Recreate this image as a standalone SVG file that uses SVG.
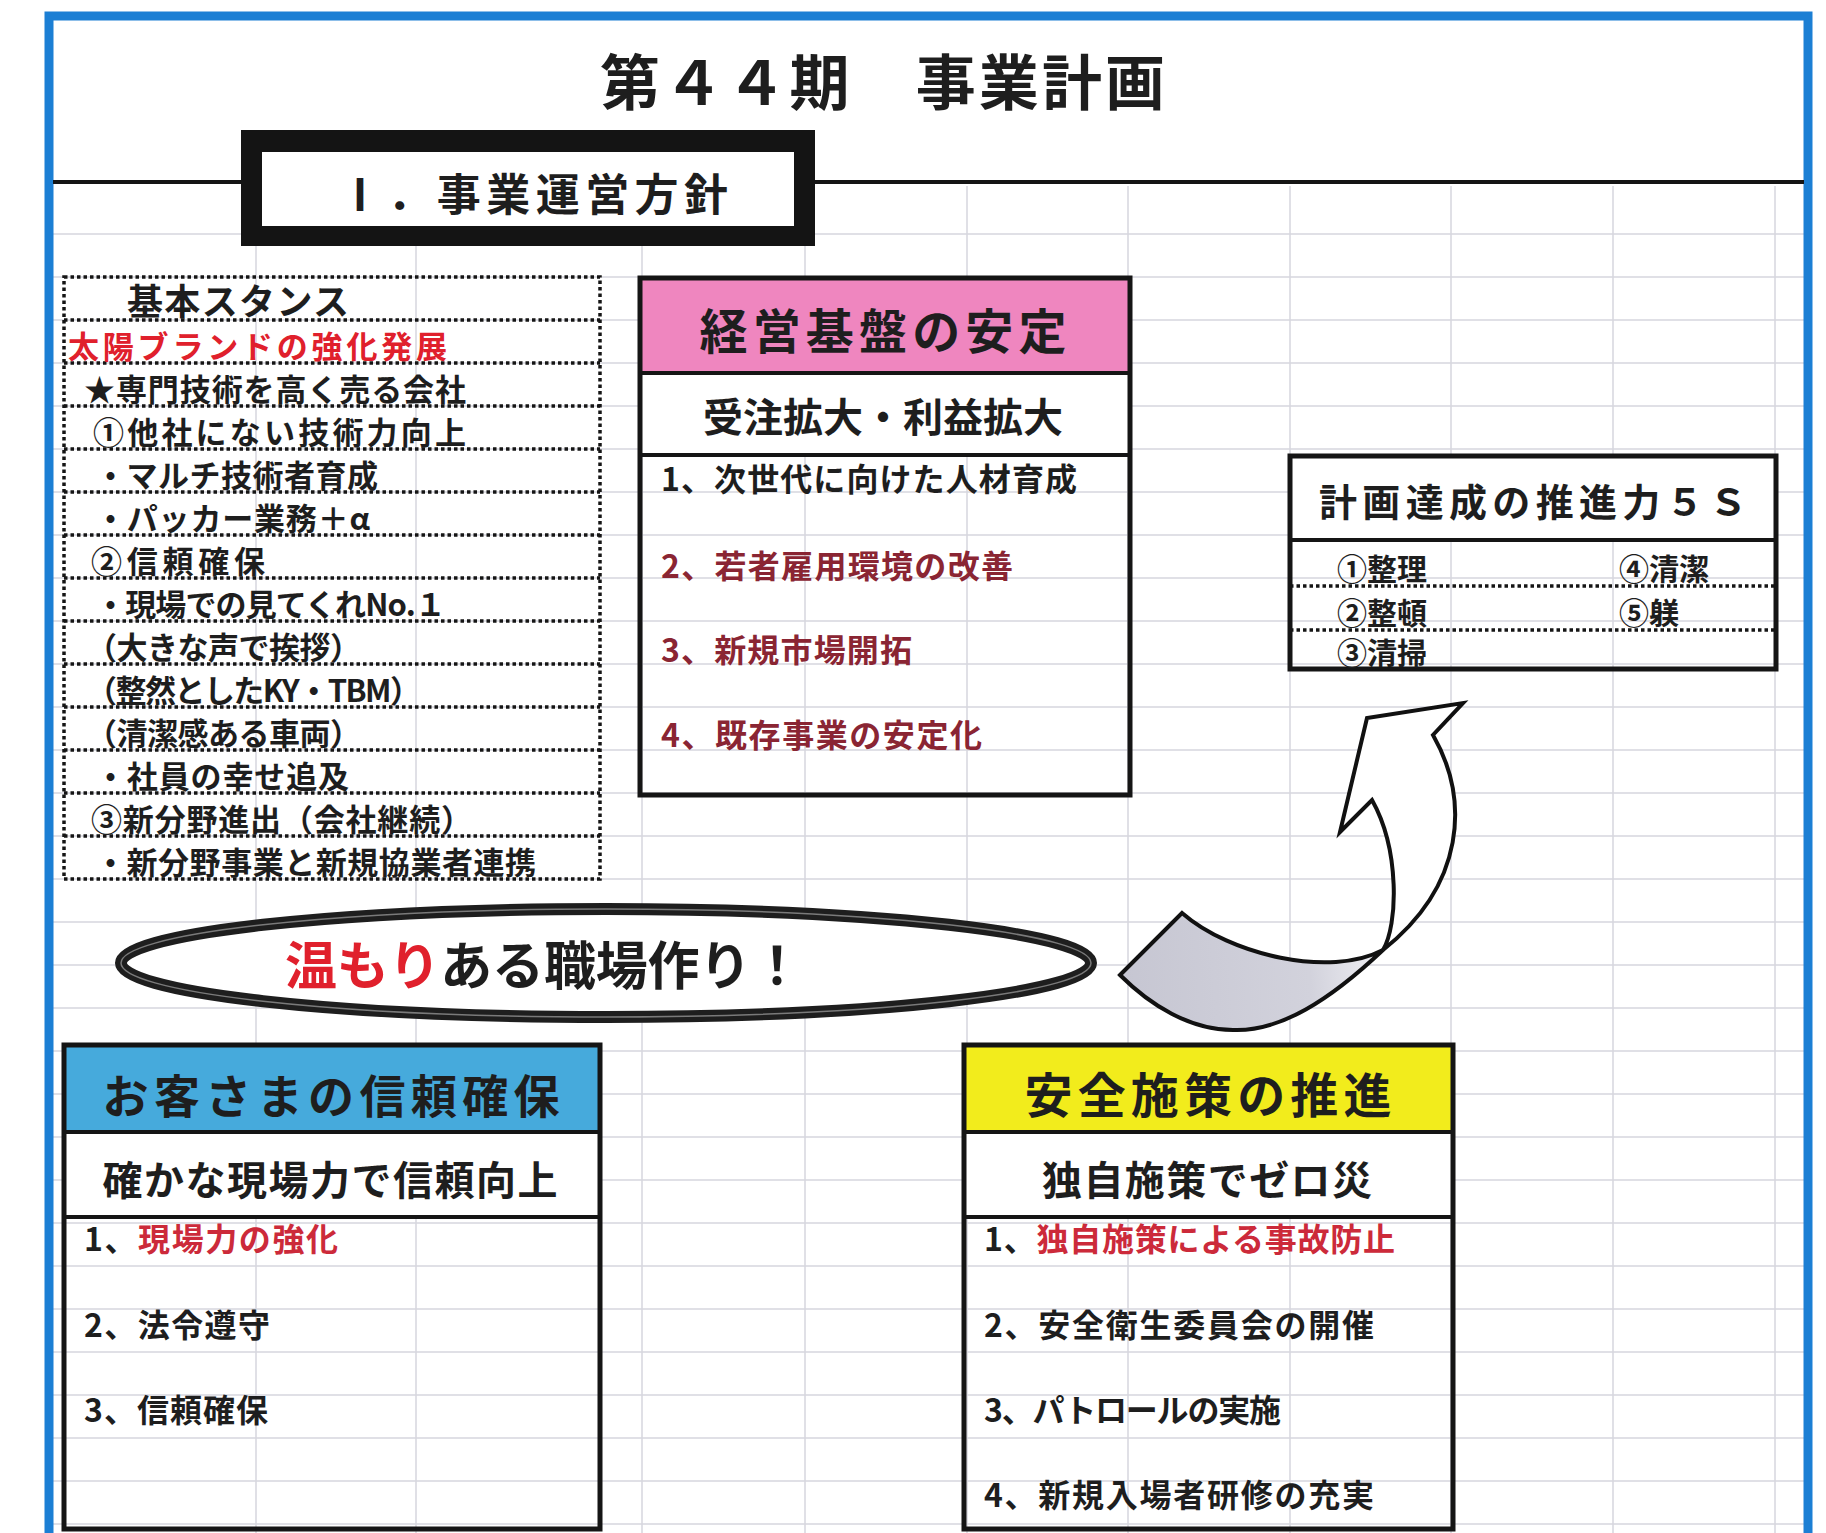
<svg xmlns="http://www.w3.org/2000/svg" width="1826" height="1533" viewBox="0 0 1826 1533">
<defs>
<style>
text { font-family: "Noto Sans CJK JP","Noto Sans CJK SC",sans-serif; font-weight: bold; fill:#1e1e1e; }
.grid { stroke:#d6d6de; stroke-width:1.5; fill:none; }
.box { fill:none; stroke:#151515; stroke-width:5; }
.sep { stroke:#151515; stroke-width:4; }
.dot { stroke:#151515; stroke-width:3.5; stroke-dasharray:3.5 3; fill:none; }
.red { fill:#e0202c; }
.red2 { fill:#cc2a3a; }
.mar { fill:#8a2533; }
.hd { font-size:48px; text-anchor:middle; }
.sub { font-size:40px; text-anchor:middle; }
.it { font-size:32px; }
.row { font-size:31px; }
.s5 { font-size:30px; }
.arrow { stroke:#111; stroke-width:4; stroke-linejoin:miter; }
</style>
<linearGradient id="ag" gradientUnits="userSpaceOnUse" x1="1120" y1="980" x2="1390" y2="960">
<stop offset="0" stop-color="#c6c6d2"/><stop offset="0.7" stop-color="#d2d2dc"/><stop offset="1" stop-color="#f2f2f6"/>
</linearGradient>
</defs>
<rect x="0" y="0" width="1826" height="1533" fill="#ffffff"/>

<g id="grid">
<path class="grid" d="M52,234H1804M52,277H1804M52,320H1804M52,363H1804M52,406H1804M52,449H1804M52,492H1804M52,535H1804M52,578H1804M52,621H1804M52,664H1804M52,707H1804M52,750H1804M52,793H1804M52,836H1804M52,879H1804M52,922H1804M52,965H1804M52,1008H1804M52,1051H1804M52,1094H1804M52,1137H1804M52,1180H1804M52,1223H1804M52,1266H1804M52,1309H1804M52,1352H1804M52,1395H1804M52,1438H1804M52,1481H1804M52,1524H1804"/>
<path class="grid" d="M256,186V1533M416,186V1533M642,186V1533M805,186V1533M967,186V1533M1128,186V1533M1290,186V1533M1451,186V1533M1613,186V1533M1775,186V1533"/>
</g>

<g id="frame">
<rect x="49" y="16" width="1759" height="1600" fill="none" stroke="#1c7fd4" stroke-width="9"/>
<line x1="53" y1="182" x2="1804" y2="182" stroke="#151515" stroke-width="4"/>
</g>

<g id="title">
<text x="600" y="105" font-size="60" font-weight="500" textLength="565">第４４期　事業計画</text>
</g>

<g id="policy-header">
<rect x="241" y="130" width="574" height="116" fill="#141414"/>
<rect x="261" y="151" width="534" height="76" fill="#ffffff" stroke="#141414" stroke-width="2"/>
<text x="338" y="211" font-size="44" textLength="390">Ⅰ．事業運営方針</text>
</g>

<g id="stance">
<rect class="dot" x="64" y="277" width="536" height="602"/>
<path class="dot" d="M64,320H600M64,363H600M64,406H600M64,449H600M64,492H600M64,535H600M64,578H600M64,621H600M64,664H600M64,707H600M64,750H600M64,793H600M64,836H600"/>
<text x="127" y="315" font-size="36" textLength="222">基本スタンス</text>
<text class="row red" x="68" y="358" textLength="379">太陽ブランドの強化発展</text>
<text class="row" x="84" y="401" textLength="382">★専門技術を高く売る会社</text>
<text class="row" x="93" y="444" textLength="373">①他社にない技術力向上</text>
<text class="row" x="95" y="487" textLength="283">・マルチ技術者育成</text>
<text class="row" x="95" y="530" textLength="275">・パッカー業務＋α</text>
<text class="row" x="91" y="573" textLength="174">②信頼確保</text>
<text class="row" x="95" y="616" textLength="351">・現場での見てくれNo.１</text>
<text class="row" x="86" y="659" textLength="275">（大きな声で挨拶）</text>
<text class="row" x="86" y="702" textLength="335">（整然としたKY・TBM）</text>
<text class="row" x="86" y="745" textLength="275">（清潔感ある車両）</text>
<text class="row" x="95" y="788" textLength="254">・社員の幸せ追及</text>
<text class="row" x="91" y="831" textLength="381">③新分野進出（会社継続）</text>
<text class="row" x="95" y="874" textLength="441">・新分野事業と新規協業者連携</text>
</g>

<g id="keiei">
<rect x="640" y="278" width="490" height="95" fill="#ef86bf"/>
<rect x="640" y="373" width="490" height="82" fill="#ffffff"/>
<rect class="box" x="640" y="278" width="490" height="517"/>
<line class="sep" x1="640" y1="373" x2="1130" y2="373"/>
<line class="sep" x1="640" y1="455" x2="1130" y2="455" stroke-width="3"/>
<text class="hd" x="883" y="349" textLength="367">経営基盤の安定</text>
<text class="sub" x="883" y="432" textLength="360">受注拡大・利益拡大</text>
<text class="it" x="661" y="491" textLength="416" fill="#4a2328">1、次世代に向けた人材育成</text>
<text class="it mar" x="661" y="578" textLength="352">2、若者雇用環境の改善</text>
<text class="it mar" x="661" y="662" textLength="251">3、新規市場開拓</text>
<text class="it mar" x="661" y="747" textLength="321">4、既存事業の安定化</text>
</g>

<g id="fives">
<rect x="1290" y="456" width="486" height="84" fill="#ffffff"/>
<rect class="box" x="1290" y="456" width="486" height="213"/>
<line class="sep" x1="1290" y1="540" x2="1776" y2="540"/>
<path class="dot" d="M1290,586H1776M1290,630H1776"/>
<text x="1533" y="516" font-size="38" text-anchor="middle" textLength="428" fill="#d8202e">計画達成の推進力５Ｓ</text>
<text class="s5" x="1337" y="580">①整理</text>
<text class="s5" x="1337" y="624">②整頓</text>
<text class="s5" x="1337" y="664">③清掃</text>
<text class="s5" x="1619" y="580">④清潔</text>
<text class="s5" x="1619" y="624">⑤躾</text>
</g>

<g id="motto">
<ellipse cx="606" cy="963" rx="485" ry="54" fill="#ffffff" stroke="#1e1e1e" stroke-width="12"/>
<ellipse cx="606" cy="963" rx="485" ry="54" fill="none" stroke="#7a7a7a" stroke-width="1.5"/>
<text x="285" y="985" font-size="52" textLength="518"><tspan class="red">温もり</tspan>ある職場作り！</text>
</g>

<g id="customer">
<rect x="64" y="1045" width="536" height="87" fill="#46aadc"/>
<rect x="64" y="1132" width="536" height="85" fill="#ffffff"/>
<rect class="box" x="64" y="1045" width="536" height="484"/>
<line class="sep" x1="64" y1="1132" x2="600" y2="1132"/>
<line class="sep" x1="64" y1="1217" x2="600" y2="1217" stroke-width="3"/>
<text x="331" y="1113" font-size="46" text-anchor="middle" textLength="457">お客さまの信頼確保</text>
<text class="sub" x="330" y="1195" textLength="455">確かな現場力で信頼向上</text>
<text class="it" x="84" y="1251" textLength="254">1、<tspan class="red2">現場力の強化</tspan></text>
<text class="it" x="84" y="1337" textLength="186">2、法令遵守</text>
<text class="it" x="84" y="1422" textLength="184">3、信頼確保</text>
</g>

<g id="safety">
<rect x="964" y="1045" width="489" height="87" fill="#f2ec1c"/>
<rect x="964" y="1132" width="489" height="85" fill="#ffffff"/>
<rect class="box" x="964" y="1045" width="489" height="484"/>
<line class="sep" x1="964" y1="1132" x2="1453" y2="1132"/>
<line class="sep" x1="964" y1="1217" x2="1453" y2="1217" stroke-width="3"/>
<text class="hd" x="1208" y="1113" textLength="367">安全施策の推進</text>
<text class="sub" x="1207" y="1195" textLength="330">独自施策でゼロ災</text>
<text class="it" x="984" y="1251" textLength="411">1、<tspan class="red2">独自施策による事故防止</tspan></text>
<text class="it" x="984" y="1337" textLength="390">2、安全衛生委員会の開催</text>
<text class="it" x="984" y="1422" textLength="297">3、パトロールの実施</text>
<text class="it" x="984" y="1507" textLength="390">4、新規入場者研修の充実</text>
</g>

<g id="connectors">
<path class="arrow" fill="url(#ag)" d="M1120,975 L1182,913 C1230,955 1330,978 1383,950 C1330,1000 1280,1032 1233,1030 C1190,1030 1150,1005 1120,975 Z"/>
<path class="arrow" fill="#ffffff" d="M1383,950 C1398,925 1400,850 1372,800 L1340,832 L1367,718 L1463,703 L1433,735 C1470,800 1465,885 1383,950 Z"/>
</g>
</svg>
